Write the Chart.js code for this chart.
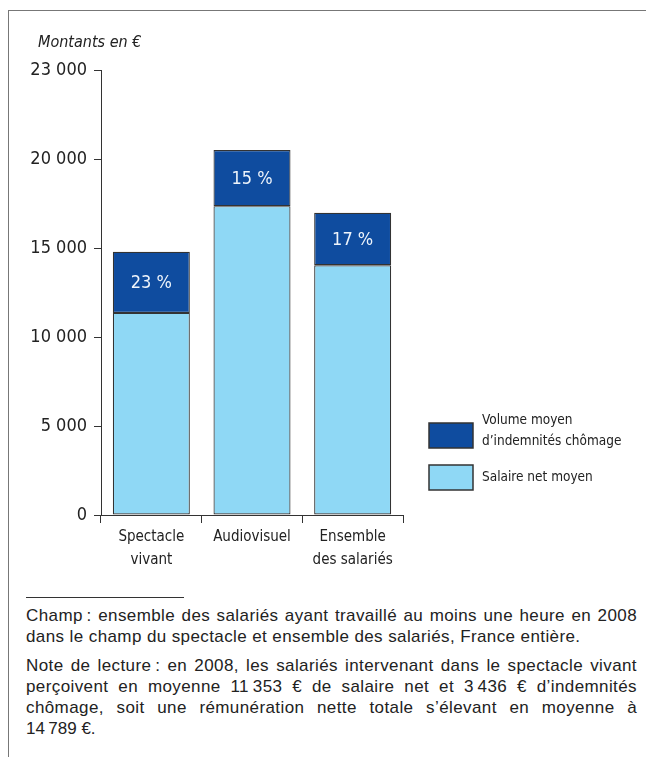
<!DOCTYPE html>
<html lang="fr">
<head>
<meta charset="utf-8">
<title>Salaire net moyen et indemnités chômage</title>
<script src="https://cdn.jsdelivr.net/npm/chart.js@4.4.0/dist/chart.umd.min.js"></script>
<style>
    body { margin: 0; background: #fff; }
    #wrap { position: relative; width: 646px; height: 757px; overflow: hidden; }
    .frame-top { position: absolute; left: 8px; top: 10px; width: 638px; height: 1px; background: #777; }
    .frame-left { position: absolute; left: 8px; top: 10px; width: 1px; height: 747px; background: #777; }
    #chart { position: absolute; left: 0; top: 0; }
    .sep { position: absolute; left: 26px; top: 597px; width: 158px; height: 1px; background: #333; }
    .notes {
        position: absolute; left: 26px; top: 605px; width: 611px;
        font-family: "Liberation Sans", Arial, sans-serif; font-size: 17px;
        letter-spacing: 0.4px; line-height: 21px; color: #222;
        white-space: nowrap;
    }
    .notes .j { text-align: justify; text-align-last: justify; }
    .notes .gap { margin-top: 8px; }
</style>
</head>
<body>
<div id="wrap">
    <div class="frame-top"></div>
    <div class="frame-left"></div>
    <canvas id="chart" width="646" height="590"></canvas>
    <div class="sep"></div>
    <div class="notes">
        <div class="j">Champ&#8239;: ensemble des salariés ayant travaillé au moins une heure en 2008</div>
        <div>dans le champ du spectacle et ensemble des salariés, France entière.</div>
        <div class="j gap">Note de lecture&#8239;: en 2008, les salariés intervenant dans le spectacle vivant</div>
        <div class="j">perçoivent en moyenne 11&#8239;353 € de salaire net et 3&#8239;436 € d’indemnités</div>
        <div class="j">chômage, soit une rémunération nette totale s’élevant en moyenne à</div>
        <div>14&#8239;789 €.</div>
    </div>
</div>
<script>
    "use strict";

    // Données (montants moyens en euros, 2008)
    var categories = [['Spectacle', 'vivant'], 'Audiovisuel', ['Ensemble', 'des salariés']];
    var salaireNet = [11353, 17350, 14030];
    var indemnites = [3436, 3150, 2950];
    var partIndemnites = [23, 15, 17];   // en %
    var yTickValues = [0, 5000, 10000, 15000, 20000, 25000];
    var yTickLabels = ['0', '5 000', '10 000', '15 000', '20 000', '23 000'];
    var legendLabels = [['Volume moyen', 'd\u2019indemnités chômage'], ['Salaire net moyen']];

    var DARK = '#0f4c9f';
    var LIGHT = '#8fd8f5';
    var EDGE = '#333333';
    var NARROW = '"Liberation Sans Narrow", "Arial Narrow", "DejaVu Sans Condensed", sans-serif';

    // textes dessinés à la main : unité, pourcentages, légende
    var extras = {
        id: 'extras',
        afterDatasetsDraw: function(chart) {
            var ctx = chart.ctx;
            var area = chart.chartArea;
            ctx.save();

            // unité
            ctx.fillStyle = '#222';
            ctx.font = 'italic 16px ' + NARROW;
            ctx.textAlign = 'left';
            ctx.textBaseline = 'alphabetic';
            ctx.fillText('Montants en €', 38, 47);

            // parts d'indemnités dans les segments foncés
            var meta = chart.getDatasetMeta(1);
            ctx.fillStyle = '#eef4fb';
            ctx.font = '18px ' + NARROW;
            ctx.textAlign = 'center';
            ctx.textBaseline = 'middle';
            meta.data.forEach(function(bar, i) {
                ctx.fillText(partIndemnites[i] + ' %', bar.x, (bar.y + bar.base) / 2 + 1);
            });

            // légende
            var lx = area.right + 26;
            var colors = [DARK, LIGHT];
            var boxTop = [423, 465];
            ctx.font = '13.5px ' + NARROW;
            ctx.textAlign = 'left';
            ctx.textBaseline = 'middle';
            ctx.lineWidth = 1.5;
            for (var k = 0; k < 2; k++) {
                ctx.fillStyle = colors[k];
                ctx.fillRect(lx, boxTop[k], 44, 25);
                ctx.strokeStyle = EDGE;
                ctx.strokeRect(lx, boxTop[k], 44, 25);
                ctx.fillStyle = '#222';
                var lines = legendLabels[k];
                var y0 = lines.length > 1 ? boxTop[k] - 3 : boxTop[k] + 12;
                lines.forEach(function(t, j) {
                    ctx.fillText(t, lx + 53, y0 + j * 21);
                });
            }
            ctx.restore();
        }
    };

    var ctx = document.getElementById('chart').getContext('2d');
    new Chart(ctx, {
        type: 'bar',
        data: {
            labels: categories,
            datasets: [{
                label: 'Salaire net moyen',
                data: salaireNet,
                backgroundColor: LIGHT,
                borderColor: EDGE,
                borderWidth: 1.2,
                borderSkipped: false,
                categoryPercentage: 1,
                barPercentage: 0.765
            }, {
                label: 'Volume moyen d\u2019indemnités chômage',
                data: indemnites,
                backgroundColor: DARK,
                borderColor: EDGE,
                borderWidth: 1.2,
                borderSkipped: false,
                categoryPercentage: 1,
                barPercentage: 0.765
            }]
        },
        options: {
            responsive: false,
            animation: false,
            layout: { padding: { left: 0, top: 70, right: 243, bottom: 15 } },
            plugins: {
                legend: { display: false },
                tooltip: { enabled: false }
            },
            scales: {
                x: {
                    stacked: true,
                    grid: { offset: true, drawOnChartArea: false, tickLength: 8, color: EDGE, lineWidth: 1 },
                    border: { color: EDGE, width: 1 },
                    ticks: {
                        color: '#222',
                        font: { family: NARROW, size: 15, lineHeight: 1.55 },
                        padding: 2,
                        maxRotation: 0,
                        autoSkip: false
                    },
                    afterFit: function(scale) { scale.height = 60; }
                },
                y: {
                    stacked: true,
                    min: 0,
                    max: 25000,
                    afterBuildTicks: function(scale) {
                        scale.ticks = yTickValues.map(function(v) { return { value: v }; });
                    },
                    grid: { drawOnChartArea: false, tickLength: 7, color: EDGE, lineWidth: 1 },
                    border: { color: EDGE, width: 1 },
                    ticks: {
                        color: '#222',
                        font: { family: NARROW, size: 18 },
                        padding: 7,
                        callback: function(value, index) { return yTickLabels[index]; }
                    },
                    afterFit: function(scale) { scale.width = 101; }
                }
            }
        },
        plugins: [extras]
    });
</script>
</body>
</html>
